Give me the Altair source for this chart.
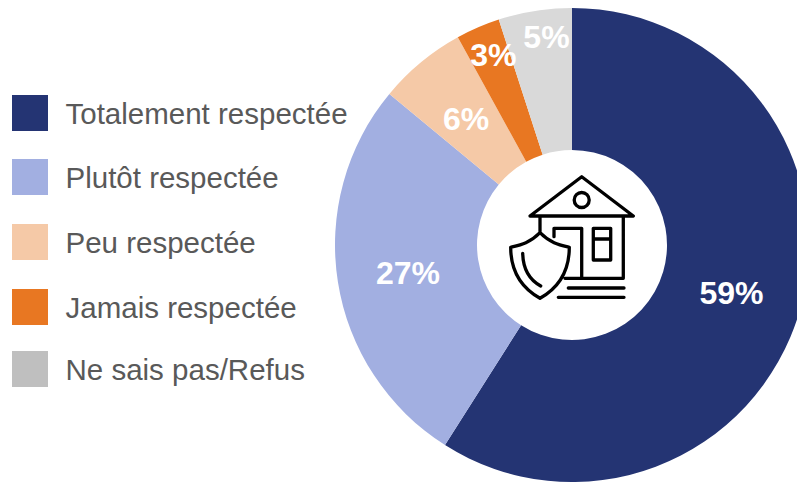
import math
import altair as alt
import pandas as pd

categories = ["Totalement respectée", "Plutôt respectée", "Peu respectée", "Jamais respectée", "Ne sais pas/Refus"]
values = [59, 27, 6, 3, 5]
labels = ["59%", "27%", "6%", "3%", "5%"]
slice_colors = ["#243473", "#A2AFE1", "#F5C9A7", "#E87722", "#D9D9D9"]
legend_colors = ["#243473", "#A2AFE1", "#F5C9A7", "#E87722", "#BFBFBF"]

start, end, mid, cum = [], [], [], 0
for v in values:
    start.append(cum)
    end.append(cum + v)
    mid.append(cum + v / 2)
    cum += v
df = pd.DataFrame({"cat": categories, "value": values, "label": labels, "start": start,
                   "end": end, "mid": mid, "row": list(range(len(values)))})

FONT = "Liberation Sans"
CX, CY = 564, 237
theta_scale = alt.Scale(domain=[0, 100], range=[0, 2 * math.pi])
cx = alt.value(CX)
cy = alt.value(CY)

arcs = alt.Chart(df).mark_arc(radius=237, radius2=95).encode(
    x=cx, y=cy,
    theta=alt.Theta("start:Q", scale=theta_scale),
    theta2=alt.Theta2("end:Q"),
    color=alt.Color("cat:N", scale=alt.Scale(domain=categories, range=slice_colors), legend=None),
)

def value_text(rows, radius, dx=0, dy=0):
    return alt.Chart(df).transform_filter(
        alt.FieldOneOfPredicate(field="row", oneOf=rows)
    ).mark_text(radius=radius, font=FONT, fontSize=32, fontWeight="bold", color="white",
                align="center", baseline="middle", dx=dx, dy=dy).encode(
        x=cx, y=cy,
        theta=alt.Theta("mid:Q", scale=theta_scale),
        text="label:N",
    )

y_rows = alt.Y("row:Q", axis=None,
               scale=alt.Scale(domain=[0, 1, 2, 3, 4], range=[105, 169, 234, 299, 361]))

legend_sq = alt.Chart(df).mark_square(size=1296, opacity=1).encode(
    x=alt.value(22), y=y_rows,
    color=alt.Color("cat:N", scale=alt.Scale(domain=categories, range=legend_colors), legend=None),
)
legend_tx = alt.Chart(df).mark_text(font=FONT, fontSize=29.5, color="#595959", align="left",
                                    baseline="middle", dy=2).encode(
    x=alt.value(57.5), y=y_rows, text="cat:N",
)

ICON = ("M-42,-29 L9.7,-68.3 L61.3,-29 Z "
        "M17.2,-45 A7.5,7.5 0 1 1 2.2,-45 A7.5,7.5 0 1 1 17.2,-45 Z "
        "M-32,-29 L-32,-13.3 "
        "M51.3,-29 L51.3,33.3 L-7,33.3 "
        "M-18,-8.3 L-18,-16.7 L9.7,-16.7 L9.7,33.3 "
        "M21.3,-16.7 L38.7,-16.7 L38.7,15 L21.3,15 Z M21.3,-6 L38.7,-6 "
        "M-32,-12.3 C-42,-2 -52,0 -61.3,2.3 C-61.3,25 -52,42 -32,53.3 "
        "C-12,42 -2.7,25 -2.7,2.3 C-12,0 -22,-2 -32,-12.3 Z "
        "M-49.3,8.3 C-49,22 -44,34 -31.3,41 "
        "M-3.7,43 L52,43 M-13.7,52.3 L52,52.3")
icon = alt.Chart(df.head(1)).mark_point(shape=ICON, size=4, filled=False, stroke="#000000",
                                        strokeWidth=3.3, opacity=1, strokeCap="round",
                                        strokeJoin="round").encode(x=cx, y=cy)

chart = alt.layer(
    arcs,
    value_text([0, 1, 2], 166, dy=3),
    value_text([3], 208, dx=4, dy=2),
    value_text([4], 208, dx=7, dy=-2),
    legend_sq, legend_tx, icon
).resolve_scale(color="independent").properties(
    width=789, height=474, padding=0, autosize=alt.AutoSizeParams(type="none")
).configure_view(stroke=None)

chart.save("out.html", embed_options={"renderer": "svg", "actions": False})
